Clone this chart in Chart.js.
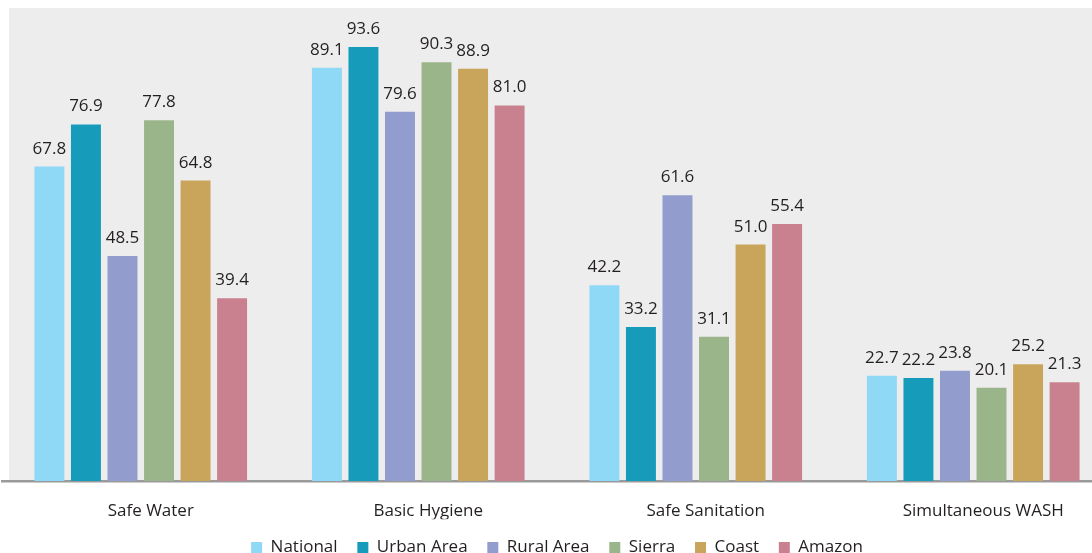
<!DOCTYPE html>
<html>
<head>
<meta charset="utf-8">
<title>WASH coverage by area</title>
<script src="https://cdn.jsdelivr.net/npm/chart.js@4.4.1/dist/chart.umd.min.js"></script>
<style>
  html, body { margin: 0; padding: 0; background: #fff; overflow: hidden; }
  .wrap { width: 1092px; height: 553px; overflow: hidden; }
</style>
</head>
<body>
<div class="wrap">
  <canvas id="washChart" width="1112" height="566"></canvas>
</div>
<script>
/**
 * WASH indicators by area — grouped bars
 */

const CATEGORIES = ['Safe Water', 'Basic Hygiene', 'Safe Sanitation', 'Simultaneous WASH'];

const NATIONAL = [67.8, 89.1, 42.2, 22.7];
const URBAN    = [76.9, 93.6, 33.2, 22.2];
const RURAL    = [48.5, 79.6, 61.6, 23.8];
const SIERRA   = [77.8, 90.3, 31.1, 20.1];
const COAST    = [64.8, 88.9, 51.0, 25.2];
const AMAZON   = [39.4, 81.0, 55.4, 21.3];

const SERIES_NAMES = ['National', 'Urban Area', 'Rural Area', 'Sierra', 'Coast', 'Amazon'];
const SERIES_DATA  = [NATIONAL, URBAN, RURAL, SIERRA, COAST, AMAZON];

const COLORS = {
  national: '#8fd8f6',
  urban:    '#169cba',
  rural:    '#929dcd',
  sierra:   '#9bb58a',
  coast:    '#c9a55c',
  amazon:   '#c98190',
  text:     '#231f20',
  plotBg:   '#ededed',
  axis:     '#9a9a9a',
};
const SERIES_COLORS = [COLORS.national, COLORS.urban, COLORS.rural, COLORS.sierra, COLORS.coast, COLORS.amazon];

const FONT = 'Open Sans';

// gray plot panel behind the bars
const plotBackground = {
  id: 'plotBackground',
  beforeDraw(chart) {
    const { ctx, chartArea: a } = chart;
    ctx.save();
    ctx.fillStyle = COLORS.plotBg;
    ctx.fillRect(a.left + 7, a.top, a.right - a.left - 7, a.bottom - a.top);
    ctx.restore();
  },
};

// value labels on top of each bar
const barValues = {
  id: 'barValues',
  afterDatasetsDraw(chart) {
    const { ctx } = chart;
    ctx.save();
    ctx.font = `17px "${FONT}"`;
    ctx.fillStyle = COLORS.text;
    ctx.textAlign = 'center';
    ctx.textBaseline = 'alphabetic';
    chart.data.datasets.forEach((ds, i) => {
      chart.getDatasetMeta(i).data.forEach((bar, j) => {
        ctx.fillText(ds.data[j].toFixed(1), bar.x, bar.y - 13);
      });
    });
    ctx.restore();
  },
};

new Chart(document.getElementById('washChart'), {
  type: 'bar',
  data: {
    labels: CATEGORIES,
    datasets: SERIES_NAMES.map((name, i) => ({
      label: name,
      data: SERIES_DATA[i],
      backgroundColor: SERIES_COLORS[i],
      borderWidth: 0,
      barPercentage: 0.82,
      categoryPercentage: 0.79,
    })),
  },
  options: {
    responsive: false,
    animation: false,
    layout: { padding: { top: 8, left: 2, right: 0, bottom: 0 } },
    plugins: {
      tooltip: { enabled: false },
      legend: {
        position: 'bottom',
        labels: {
          color: COLORS.text,
          font: { size: 17, family: FONT },
          boxWidth: 11,
          boxHeight: 11,
          padding: 19.75,
        },
      },
    },
    scales: {
      x: {
        // tick marks are hidden but keep their room, so the labels sit lower
        grid: { display: false, drawTicks: true, tickLength: 21.25 },
        border: { display: true, color: COLORS.axis, width: 2.5 },
        ticks: {
          color: COLORS.text,
          padding: 0,
          labelOffset: 10,
          font: { size: 17, family: FONT, lineHeight: 1 },
        },
      },
      y: {
        display: false,
        min: 0,
        max: 102,
      },
    },
  },
  plugins: [plotBackground, barValues],
});
</script>
</body>
</html>
